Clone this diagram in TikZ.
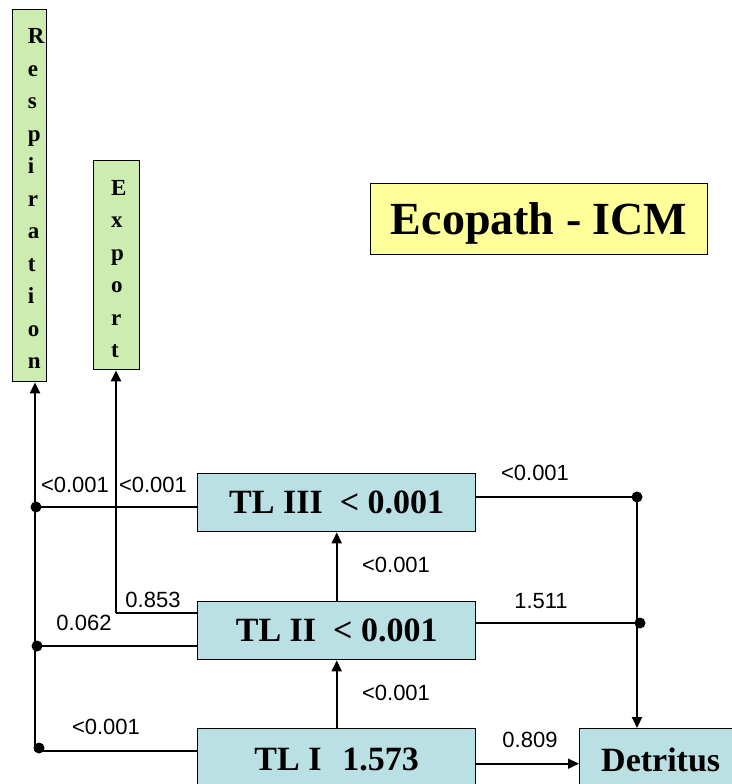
\documentclass[tikz,border=0pt]{standalone}
\usepackage{fontspec}
\setmainfont{Liberation Serif}
\setsansfont{Liberation Sans}
\usetikzlibrary{arrows.meta,calc}
\definecolor{tlcyan}{RGB}{187,224,227}
\definecolor{outgreen}{RGB}{204,236,176}
\definecolor{titleyellow}{RGB}{255,255,153}
\tikzset{
  tlbox/.style={draw=black, line width=1.4pt, fill=tlcyan, minimum width=278pt, minimum height=58pt,
    inner sep=0pt, anchor=north west, font=\fontsize{34}{40}\selectfont\bfseries},
  outbox/.style={draw=black, line width=1.4pt, fill=outgreen, inner sep=0pt, anchor=north west,
    font=\fontsize{23}{32.5}\selectfont\bfseries},
  flowlabel/.style={font=\sffamily\fontsize{22}{24}\selectfont, inner sep=0pt},
  dotnode/.style={circle, fill=black, inner sep=0pt, minimum size=11pt},
  thinline/.style={line width=1.5pt},
  arrowline/.style={line width=2.2pt, -{Triangle[length=11pt,width=10pt]}},
  thinarrow/.style={line width=1.6pt, -{Triangle[length=11pt,width=10pt]}},
}
\begin{document}
\begin{tikzpicture}[x=1pt,y=-1pt]
\useasboundingbox (0,0) rectangle (731,784);

% output boxes
\node[outbox, minimum width=34pt, minimum height=372pt] (resp) at (12,9)
  {\begin{tabular}{@{\hspace{13pt}}l@{}}\rule{0pt}{30.75pt}R\\e\\s\\p\\i\\r\\a\\t\\i\\o\\n\end{tabular}};
\node[outbox, minimum width=46pt, minimum height=209pt] (exp) at (93,160)
  {\begin{tabular}{@{\hspace{4pt}}l@{}}\rule{0pt}{32.75pt}E\\x\\p\\o\\r\\t\end{tabular}};

% title
\node[draw=black, line width=1.4pt, fill=titleyellow, minimum width=337pt, minimum height=71pt,
  inner sep=0pt, text height=31pt, text depth=0pt, anchor=north west,
  font=\fontsize{46}{50}\selectfont\bfseries] (title) at (370,183) {Ecopath - ICM};

% trophic level boxes
\node[tlbox] (tl3) at (197,473) {TL III\ \ < 0.001};
\node[tlbox] (tl2) at (197,601) {TL II\ \ < 0.001};
\node[tlbox, minimum height=62pt] (tl1) at (197,728) {TL I\hspace{21pt}1.573};
\node[tlbox, minimum width=162pt, minimum height=62pt] (det) at (579,728) {Detritus};

% junction dots and corners
\node[dotnode] (dl3) at (36,507) {};
\node[dotnode] (dl2) at (37,646) {};
\node[dotnode] (dl1) at (39,748) {};
\node[dotnode] (dr3) at (637,497) {};
\node[dotnode] (dr2) at (640,623) {};
\coordinate (lcorner) at (35,751);
\coordinate (ecorner) at (116,613);
\coordinate (t1out) at ($(tl1.east)+(0,4)$);

% left side: respiration
\draw[thinline] (tl1.west |- lcorner) -- (lcorner);
\draw[thinline] (tl2.west |- dl2) -- (dl2.center -| lcorner);
\draw[thinline] (tl3.west |- dl3) -- (dl3.center -| lcorner);
\draw[thinline] (lcorner) -- (dl2.center -| lcorner);
\draw[arrowline] (dl2.center -| lcorner) -- (lcorner |- resp.south);

% export
\draw[thinline] (tl2.west |- ecorner) -- (ecorner);
\draw[arrowline] (ecorner) -- (ecorner |- exp.south);

% upward flows
\draw[arrowline] (tl1.north) -- (tl2.south);
\draw[arrowline] (tl2.north) -- (tl3.south);

% right side: detritus
\draw[thinline] (tl3.east |- dr3) -- (dr3.center);
\draw[thinline] (tl2.east |- dr2) -- (dr2.center);
\draw[thinline] (dr3.center) -- (dr3.center |- dr2);
\draw[arrowline] (dr3.center |- dr2) -- (dr3.center |- det.north);
\draw[thinarrow] (t1out) -- (t1out -| det.west);

% flow labels
\node[flowlabel] (l1) at (75,485) {<0.001};
\node[flowlabel] (l2) at (153,485) {<0.001};
\node[flowlabel] (l3) at (153,600) {0.853};
\node[flowlabel] (l4) at (84,623) {0.062};
\node[flowlabel] (l5) at (106,727) {<0.001};
\node[flowlabel] (l6) at (396,565) {<0.001};
\node[flowlabel] (l7) at (396,693) {<0.001};
\node[flowlabel] (l8) at (535,473) {<0.001};
\node[flowlabel] (l9) at (541,601) {1.511};
\node[flowlabel] (l10) at (530,740) {0.809};
\end{tikzpicture}
\end{document}
